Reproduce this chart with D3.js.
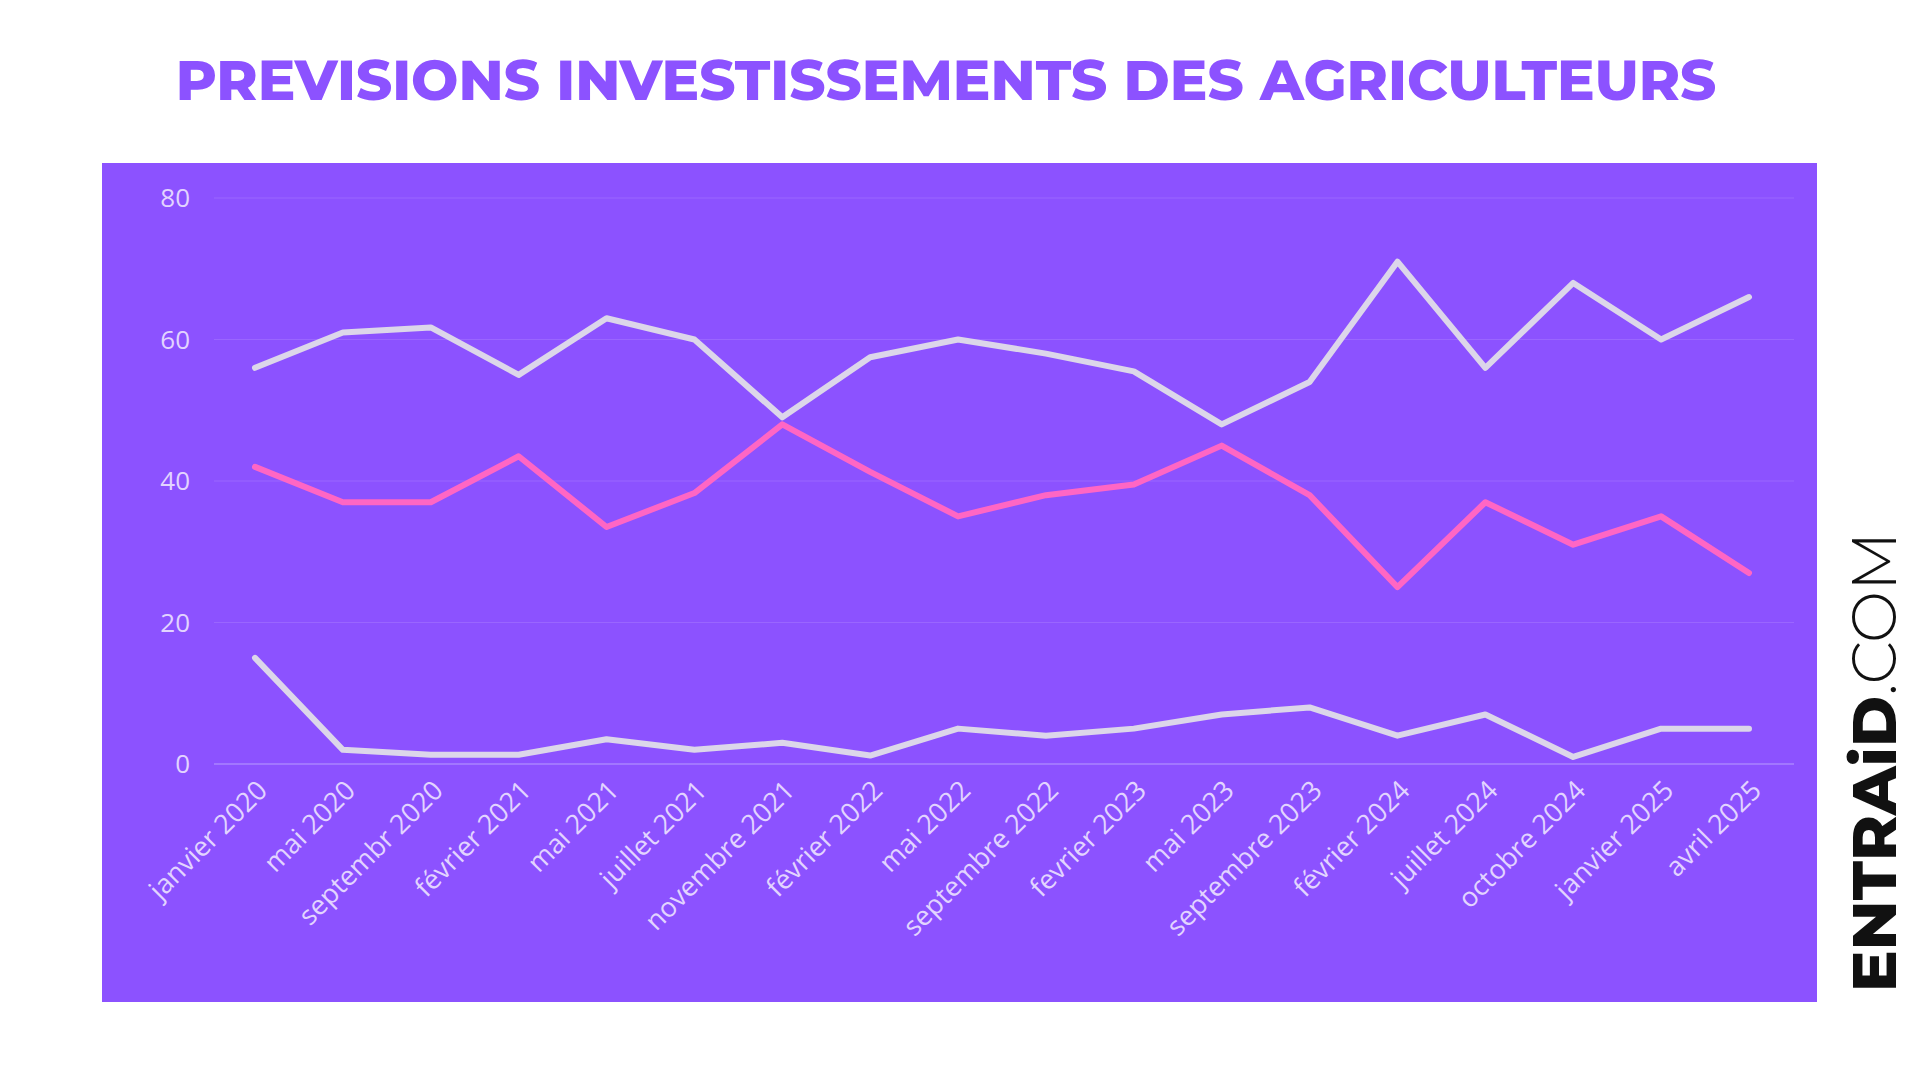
<!DOCTYPE html>
<html><head><meta charset="utf-8">
<script src="https://cdn.jsdelivr.net/npm/d3@7"></script>
<style>body{margin:0;background:#fff;}svg{display:block;}</style>
</head><body>
<script>
// Données
const mois = ["janvier 2020","mai 2020","septembr 2020","février 2021","mai 2021","juillet 2021","novembre 2021","février 2022","mai 2022","septembre 2022","fevrier 2023","mai 2023","septembre 2023","février 2024","juillet 2024","octobre 2024","janvier 2025","avril 2025"];
const serieHaut = [56,61,61.7,55,63,60,49,57.5,60,58,55.5,48,54,71,56,68,60,66];
const serieRose = [42,37,37,43.5,33.5,38.3,48,41.3,35,38,39.5,45,38,25,37,31,35,27];
const serieBas = [15,2,1.3,1.3,3.5,2,3,1.2,5,4,5,7,8,4,7,1,5,5];
const yTicks = [0,20,40,60,80];

const width = 1920, height = 1080;
const svg = d3.select("body").append("svg").attr("width", width).attr("height", height);

svg.append("text").attr("x", 946).attr("y", 100).attr("text-anchor", "middle")
  .style("font-family", "Montserrat, 'Open Sans', sans-serif").style("font-weight", 800)
  .style("font-size", "56px").style("fill", "#8c52ff")
  .text("PREVISIONS INVESTISSEMENTS DES AGRICULTEURS");

// Panneau violet
svg.append("rect").attr("x", 102).attr("y", 163).attr("width", 1715).attr("height", 839).attr("fill", "#8c52ff");

let x = d3.scalePoint().domain(mois).range([255, 1749]);
let y = d3.scaleLinear().domain([0, 80]).range([764, 198]);

// Grille
svg.selectAll(".grid").data(yTicks).enter().append("line")
  .attr("x1", 214).attr("x2", 1794).attr("y1", d => y(d)).attr("y2", d => y(d))
  .style("stroke", d => d === 0 ? "#b79cff" : "#9a66ff").style("stroke-width", 1.2);

svg.selectAll(".ylab").data(yTicks).enter().append("text")
  .attr("x", 190).attr("y", d => y(d)).attr("dy", "0.35em").attr("text-anchor", "end")
  .style("font-family", "'Open Sans', sans-serif").style("font-size", "26px").style("fill", "#e2d4ff")
  .text(d => d);

svg.selectAll(".xlab").data(mois).enter().append("text")
  .attr("transform", d => `translate(${x(d) + 14},${792}) rotate(-45)`)
  .attr("text-anchor", "end")
  .style("font-family", "'Open Sans', sans-serif").style("font-size", "27px").style("fill", "#e2d4ff")
  .text(d => d);

let line = d3.line().x((d, i) => x(mois[i])).y(d => y(d));
[[serieHaut, "#dcd6ea"], [serieRose, "#ff66c4"], [serieBas, "#dcd6ea"]].forEach(([s, c]) => {
  svg.append("path").datum(s).attr("d", line)
    .style("fill", "none").style("stroke", c).style("stroke-width", 6)
    .style("stroke-linejoin", "round").style("stroke-linecap", "round");
});

// Logo
let logo = svg.append("text").attr("transform", "translate(1896,992) rotate(-90)")
  .style("font-family", "Montserrat, 'Open Sans', sans-serif").style("font-size", "62px").style("fill", "#111");
logo.append("tspan").style("font-weight", 800).text("ENTRAiD");
logo.append("tspan").style("font-weight", 300).text(".COM");
</script>
</body></html>
